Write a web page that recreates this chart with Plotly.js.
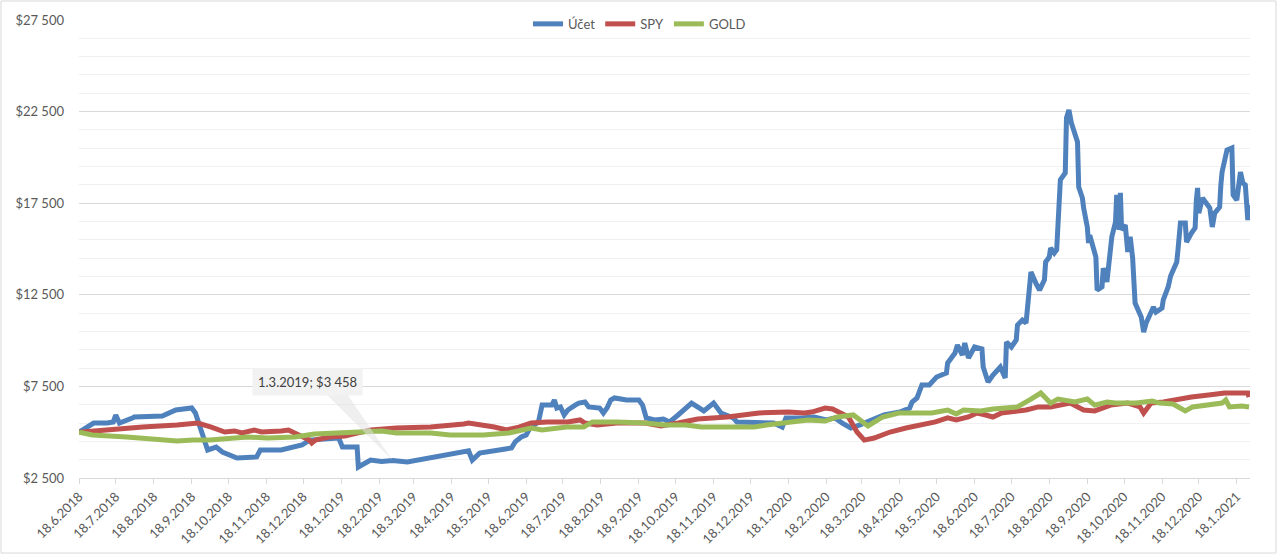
<!DOCTYPE html>
<html>
<head>
<meta charset="utf-8">
<script src="https://cdn.plot.ly/plotly-3.0.1.min.js"></script>
<style>html,body{margin:0;padding:0;background:#fff;}#chart{width:1279px;height:556px;}</style>
</head>
<body>
<div id="chart"></div>
<script>
// ---------- DATA ----------
const seriesNames = ["Účet", "SPY", "GOLD"];

const uctetDates = ["2018-06-18","2018-06-30","2018-07-11","2018-07-16","2018-07-18","2018-07-21","2018-08-01","2018-08-02","2018-08-25","2018-09-05","2018-09-18","2018-09-21","2018-10-01","2018-10-08","2018-10-13","2018-10-25","2018-11-10","2018-11-13","2018-11-30","2018-12-17","2018-12-23","2019-01-16","2019-01-19","2019-01-31","2019-02-01","2019-02-11","2019-02-20","2019-03-01","2019-03-13","2019-03-30","2019-04-16","2019-04-29","2019-05-02","2019-05-05","2019-05-11","2019-06-01","2019-06-06","2019-06-09","2019-06-14","2019-06-18","2019-06-21","2019-06-28","2019-07-01","2019-07-09","2019-07-11","2019-07-13","2019-07-16","2019-07-19","2019-07-22","2019-07-28","2019-07-31","2019-08-05","2019-08-08","2019-08-17","2019-08-20","2019-08-23","2019-08-26","2019-08-29","2019-09-08","2019-09-18","2019-09-21","2019-09-24","2019-10-01","2019-10-08","2019-10-13","2019-10-20","2019-10-25","2019-10-31","2019-11-10","2019-11-18","2019-11-24","2019-12-04","2019-12-07","2019-12-17","2020-01-06","2020-01-13","2020-01-16","2020-01-29","2020-02-08","2020-02-18","2020-02-25","2020-03-02","2020-03-09","2020-03-16","2020-03-23","2020-04-05","2020-04-18","2020-04-26","2020-04-28","2020-05-02","2020-05-06","2020-05-12","2020-05-18","2020-05-26","2020-05-27","2020-06-02","2020-06-04","2020-06-08","2020-06-10","2020-06-13","2020-06-18","2020-06-24","2020-06-25","2020-06-29","2020-07-03","2020-07-09","2020-07-13","2020-07-14","2020-07-18","2020-07-22","2020-07-23","2020-07-27","2020-07-30","2020-07-31","2020-08-03","2020-08-07","2020-08-10","2020-08-14","2020-08-15","2020-08-18","2020-08-19","2020-08-22","2020-08-24","2020-08-27","2020-08-31","2020-09-01","2020-09-03","2020-09-05","2020-09-10","2020-09-11","2020-09-14","2020-09-15","2020-09-18","2020-09-19","2020-09-20","2020-09-25","2020-09-26","2020-09-30","2020-10-01","2020-10-04","2020-10-08","2020-10-11","2020-10-12","2020-10-14","2020-10-15","2020-10-16","2020-10-19","2020-10-21","2020-10-23","2020-10-25","2020-10-27","2020-11-01","2020-11-03","2020-11-05","2020-11-09","2020-11-11","2020-11-13","2020-11-18","2020-11-19","2020-11-23","2020-11-25","2020-11-27","2020-11-30","2020-12-01","2020-12-03","2020-12-07","2020-12-08","2020-12-12","2020-12-15","2020-12-16","2020-12-17","2020-12-18","2020-12-21","2020-12-27","2020-12-29","2020-12-31","2021-01-04","2021-01-05","2021-01-06","2021-01-10","2021-01-14","2021-01-15","2021-01-18","2021-01-21","2021-01-23","2021-01-25","2021-01-26","2021-01-27","2021-01-28"];
const uctetValues = [5000,5500,5500,5560,5940,5500,5780,5830,5880,6210,6320,6050,4030,4190,3920,3590,3650,4030,4030,4300,4570,4680,4190,4190,3100,3480,3400,3458,3370,3590,3760,3920,3980,3480,3860,4080,4140,4470,4740,4850,5230,5560,6480,6480,6760,6320,6380,5940,6210,6480,6590,6650,6380,6320,6050,6320,6760,6870,6760,6760,6480,5780,5670,5720,5560,5940,6270,6590,6160,6590,6050,5780,5560,5560,5500,5280,5780,5780,5830,5670,5780,5500,5230,5390,5560,5940,6100,6320,6650,6870,7580,7580,8010,8230,8780,9320,9760,9210,9870,9050,9650,9540,8560,7740,8120,8560,7960,9920,9650,10030,10850,11120,10960,11780,13740,13140,12760,13310,14290,14560,15050,14780,14950,18770,19150,22150,22590,21880,20840,18380,17780,17240,16200,15330,15760,14560,12760,12930,13960,13200,15660,16470,17950,16040,18060,16040,16310,14840,15660,14510,12050,11290,10470,10960,11510,11830,11560,11780,12220,12930,13530,13850,14290,14950,16420,16420,15380,15870,16150,17670,18330,16960,17780,17240,16200,16960,17290,18490,19200,20400,20510,17950,17670,19200,18600,18490,17130,16580,17400];

const spyDates = ["2018-06-18","2018-07-14","2018-08-09","2018-09-06","2018-09-23","2018-10-04","2018-10-15","2018-10-23","2018-10-29","2018-11-08","2018-11-14","2018-11-30","2018-12-06","2018-12-11","2018-12-23","2018-12-25","2018-12-28","2019-01-08","2019-01-21","2019-02-01","2019-02-11","2019-03-04","2019-04-01","2019-04-28","2019-05-02","2019-05-23","2019-06-02","2019-06-12","2019-06-22","2019-07-05","2019-07-22","2019-08-01","2019-08-05","2019-08-15","2019-08-31","2019-09-23","2019-10-06","2019-10-20","2019-11-05","2019-11-29","2019-12-12","2019-12-25","2020-01-18","2020-01-31","2020-02-06","2020-02-17","2020-02-23","2020-03-01","2020-03-07","2020-03-14","2020-03-20","2020-03-28","2020-04-10","2020-04-23","2020-05-07","2020-05-17","2020-05-27","2020-06-03","2020-06-13","2020-06-20","2020-06-27","2020-07-03","2020-07-10","2020-07-20","2020-07-30","2020-08-09","2020-08-19","2020-09-04","2020-09-15","2020-09-24","2020-10-07","2020-10-21","2020-10-31","2020-11-03","2020-11-09","2020-11-19","2020-11-30","2020-12-12","2020-12-26","2021-01-08","2021-01-18","2021-01-25","2021-01-27","2021-01-28"];
const spyValues = [5000,5170,5280,5390,5500,5280,5010,5070,4960,5120,5010,5070,5120,4960,4570,4410,4570,4740,4790,4960,5120,5230,5280,5450,5500,5280,5120,5280,5500,5560,5560,5670,5500,5390,5500,5500,5340,5500,5720,5830,5940,6050,6100,6050,6100,6320,6270,6050,5830,5010,4570,4680,5010,5230,5390,5560,5780,5670,5830,6050,5940,5830,6050,6100,6210,6380,6380,6590,6210,6160,6480,6590,6380,6050,6590,6650,6810,6920,7030,7140,7140,7190,7140,6920];

const goldDates = ["2018-06-18","2018-06-29","2018-07-27","2018-08-15","2018-09-06","2018-09-19","2018-10-03","2018-10-23","2018-11-03","2018-11-19","2018-12-11","2018-12-27","2019-01-21","2019-02-04","2019-02-20","2019-03-04","2019-04-01","2019-04-17","2019-05-14","2019-06-04","2019-06-22","2019-07-01","2019-07-21","2019-08-04","2019-08-11","2019-08-31","2019-09-23","2019-10-09","2019-10-26","2019-11-08","2019-11-21","2019-12-12","2019-12-21","2019-12-31","2020-01-18","2020-02-03","2020-02-17","2020-02-27","2020-03-11","2020-03-23","2020-04-04","2020-04-17","2020-04-30","2020-05-14","2020-05-27","2020-06-03","2020-06-09","2020-06-23","2020-07-03","2020-07-13","2020-07-23","2020-08-03","2020-08-11","2020-08-19","2020-08-25","2020-09-08","2020-09-18","2020-09-24","2020-10-04","2020-10-11","2020-10-28","2020-11-10","2020-11-16","2020-11-27","2020-12-07","2020-12-13","2020-12-26","2021-01-06","2021-01-09","2021-01-12","2021-01-22","2021-01-28"];
const goldValues = [5000,4850,4740,4630,4520,4570,4570,4680,4740,4680,4740,4900,4960,5010,5070,4960,4960,4850,4850,4960,5230,5120,5280,5280,5560,5560,5500,5390,5390,5280,5280,5340,5280,5390,5560,5670,5610,5830,5940,5340,5830,6050,6050,6050,6210,5990,6210,6160,6270,6320,6380,6810,7140,6590,6810,6650,6810,6480,6650,6590,6590,6700,6590,6540,6160,6380,6480,6590,6760,6380,6430,6380];

const xTickDates = ["2018-06-18","2018-07-18","2018-08-18","2018-09-18","2018-10-18","2018-11-18","2018-12-18","2019-01-18","2019-02-18","2019-03-18","2019-04-18","2019-05-18","2019-06-18","2019-07-18","2019-08-18","2019-09-18","2019-10-18","2019-11-18","2019-12-18","2020-01-18","2020-02-18","2020-03-18","2020-04-18","2020-05-18","2020-06-18","2020-07-18","2020-08-18","2020-09-18","2020-10-18","2020-11-18","2020-12-18","2021-01-18"];
const xTickLabels = ["18.6.2018","18.7.2018","18.8.2018","18.9.2018","18.10.2018","18.11.2018","18.12.2018","18.1.2019","18.2.2019","18.3.2019","18.4.2019","18.5.2019","18.6.2019","18.7.2019","18.8.2019","18.9.2019","18.10.2019","18.11.2019","18.12.2019","18.1.2020","18.2.2020","18.3.2020","18.4.2020","18.5.2020","18.6.2020","18.7.2020","18.8.2020","18.9.2020","18.10.2020","18.11.2020","18.12.2020","18.1.2021"];

const yTickValues = [2500, 7500, 12500, 17500, 22500, 27500];
const yTickLabels = ["$2 500", "$7 500", "$12 500", "$17 500", "$22 500", "$27 500"];

const calloutDate = "2019-03-01";
const calloutValue = 3458;
const calloutLabel = "1.3.2019; $3 458";

// ---------- STYLE ----------
const colors = ["#4F81BD", "#C0504D", "#9BBB59"];
const FONT = "Lato, 'Liberation Sans', Arial, sans-serif";
const TXT = "#595959";

const traces = [
  {x: uctetDates, y: uctetValues, name: seriesNames[0]},
  {x: spyDates, y: spyValues, name: seriesNames[1]},
  {x: goldDates, y: goldValues, name: seriesNames[2]}
].map((t, i) => Object.assign(t, {
  type: "scatter", mode: "lines",
  line: {color: colors[i], width: 5, shape: "linear"},
  hoverinfo: "skip"
}));

const layout = {
  width: 1279, height: 556,
  margin: {l: 79, r: 29, t: 20, b: 78, autoexpand: false},
  paper_bgcolor: "#ffffff", plot_bgcolor: "#ffffff",
  font: {family: FONT, color: TXT, size: 12},
  showlegend: true,
  legend: {
    orientation: "h", xref: "container", yref: "container",
    x: 0.5, xanchor: "center", y: 0.957, yanchor: "middle",
    bgcolor: "rgba(0,0,0,0)", font: {family: FONT, size: 13, color: TXT},
    itemwidth: 30, tracegroupgap: 0
  },
  xaxis: {
    type: "date",
    range: ["2018-06-18", "2021-01-28 19:00"],
    tickmode: "array", tickvals: xTickDates, ticktext: xTickLabels,
    tickangle: -45, tickfont: {family: FONT, size: 13, color: TXT},
    showgrid: false, zeroline: false, automargin: false,
    showline: true, linecolor: "#D9D9D9", linewidth: 1,
    ticks: "outside", ticklen: 5, tickcolor: "#D9D9D9", tickwidth: 1
  },
  yaxis: {
    range: [2500, 27500], automargin: false,
    tickmode: "array", tickvals: yTickValues, ticktext: yTickLabels,
    tickfont: {family: FONT, size: 13, color: TXT},
    showgrid: true, gridcolor: "#D9D9D9", gridwidth: 1,
    minor: {tickmode: "linear", tick0: 2500, dtick: 1000, showgrid: true, gridcolor: "#F0F0F0", gridwidth: 1, ticks: ""},
    zeroline: false, showline: false, ticks: "", ticklabelstandoff: 14
  },
  shapes: [
    {type: "rect", xref: "paper", yref: "paper",
     x0: -0.0666, x1: 1.0222, y0: -0.1638, y1: 1.0415,
     line: {color: "#D9D9D9", width: 1}, fillcolor: "rgba(0,0,0,0)", layer: "below"},
    {type: "path", xref: "x", yref: "y", xsizemode: "pixel", ysizemode: "pixel",
     xanchor: calloutDate, yanchor: calloutValue,
     path: "M0,0 L-67,67 L-46,67 Z",
     fillcolor: "rgba(225,225,225,0.55)", line: {width: 0}, layer: "above"}
  ],
  annotations: [{
    x: calloutDate, y: calloutValue, xref: "x", yref: "y",
    text: calloutLabel, showarrow: false,
    xanchor: "center", yanchor: "middle", xshift: -85, yshift: 78,
    bgcolor: "#F2F2F2", borderpad: 5,
    font: {family: FONT, size: 13, color: "#404040"}
  }]
};

Plotly.newPlot("chart", traces, layout, {staticPlot: true, displayModeBar: false});
</script>
</body>
</html>
